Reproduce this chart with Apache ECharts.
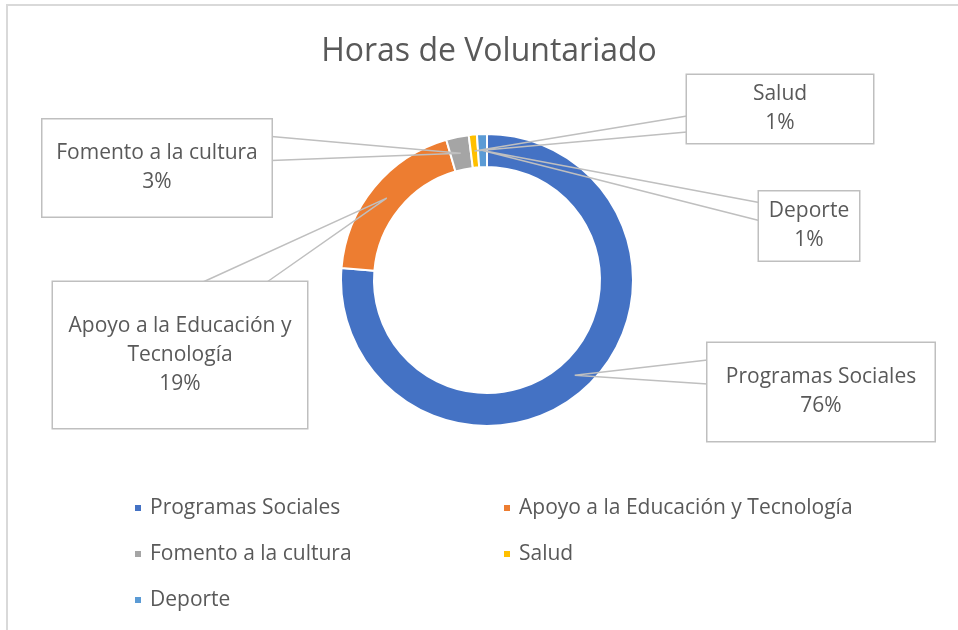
<!DOCTYPE html>
<html>
<head>
<meta charset="utf-8">
<script src="https://cdn.jsdelivr.net/npm/echarts@6/dist/echarts.min.js"></script>
<style>
  html, body { margin: 0; padding: 0; background: #fff; }
  #chart { position: absolute; left: 0; top: 0; width: 958px; height: 630px; }
  #frame {
    position: absolute; left: 6px; top: 4px; right: 0; bottom: 0;
    border-top: 2px solid #d9d9d9; border-left: 2px solid #d9d9d9;
    pointer-events: none;
  }
</style>
</head>
<body>
<div id="chart"></div>
<div id="frame"></div>
<script>
// areas and their share of volunteer hours (%)
const categories = [
  "Programas Sociales",
  "Apoyo a la Educación y Tecnología",
  "Fomento a la cultura",
  "Salud",
  "Deporte",
];
const hours = [76.3, 19.2, 2.5, 0.9, 1.1];
const labelNames = [
  "Programas Sociales",
  "Apoyo a la Educación y\nTecnología",
  "Fomento a la cultura",
  "Salud",
  "Deporte",
];
const colors = ["#4472C4", "#ED7D31", "#A5A5A5", "#FFC000", "#5B9BD5"];

// callout boxes: center x, center y, width, height,
// and where the pointer leaves the box: side, offsets along that side
const boxes = [
  [821, 392, 227, 98, "left", 17, 41],
  [180, 355, 254, 146, "top", 150, 214],
  [157, 168, 229, 97, "right", 17, 41],
  [780, 109, 186, 68, "left", 41, 57],
  [809, 226, 100, 69, "left", 11, 29],
];
const lineH = 29;

const cx = 487, cy = 280, rIn = 113, rOut = 146;
const textColor = "#595959";
const font = "'Open Sans', sans-serif";

const chart = echarts.init(document.getElementById("chart"));

const total = hours.reduce((a, b) => a + b, 0);

// point in the middle of the ring, at the slice's middle angle
function sliceAnchor(i) {
  let before = 0;
  for (let k = 0; k < i; k++) before += hours[k];
  const frac = (before + hours[i] / 2) / total;
  const a = frac * Math.PI * 2;
  const r = (rIn + rOut) / 2;
  return [cx + Math.sin(a) * r, cy - Math.cos(a) * r];
}

function boxPoint(b, off) {
  const x0 = b[0] - b[2] / 2, y0 = b[1] - b[3] / 2;
  if (b[4] === "left") return [x0, y0 + off];
  if (b[4] === "right") return [x0 + b[2], y0 + off];
  if (b[4] === "top") return [x0 + off, y0];
  return [x0 + off, y0 + b[3]];
}

const ringData = categories.map((name, i) => ({
  name: name,
  value: hours[i],
  itemStyle: { color: colors[i] },
}));

// same slices, transparent, drawn on top so the callout lines cross the ring
const labelData = categories.map((name, i) => {
  const lines = labelNames[i].split("\n").length + 1;
  const padV = Math.max(0, (boxes[i][3] - lines * lineH) / 2);
  return {
    name: name,
    value: hours[i],
    label: {
      width: boxes[i][2],
      padding: [padV, 0, padV, 0],
    },
  };
});

const legendText = {
  color: textColor,
  fontFamily: font,
  fontSize: 21,
  lineHeight: 22,
  padding: [0, 0, 0, 3],
};

const option = {
  animation: false,
  title: {
    text: "Horas de Voluntariado",
    left: 489,
    top: 36,
    padding: 0,
    textAlign: "center",
    textStyle: {
      color: textColor,
      fontFamily: font,
      fontSize: 32,
      fontWeight: "normal",
    },
  },
  legend: [
    {
      orient: "vertical",
      left: 128,
      top: 492,
      itemWidth: 8,
      itemHeight: 8,
      itemGap: 24,
      icon: "rect",
      data: [categories[0], categories[2], categories[4]],
      textStyle: legendText,
    },
    {
      orient: "vertical",
      left: 497,
      top: 492,
      itemWidth: 8,
      itemHeight: 8,
      itemGap: 24,
      icon: "rect",
      data: [categories[1], categories[3]],
      textStyle: legendText,
    },
  ],
  series: [
    {
      type: "pie",
      z: 2,
      center: [cx, cy],
      radius: [rIn, rOut],
      startAngle: 90,
      clockwise: true,
      itemStyle: {
        borderColor: "#fff",
        borderWidth: 2,
      },
      label: { show: false },
      labelLine: { show: false },
      emphasis: { disabled: true },
      data: ringData,
    },
    {
      type: "pie",
      z: 3,
      silent: true,
      center: [cx, cy],
      radius: [rIn, rOut],
      startAngle: 90,
      clockwise: true,
      avoidLabelOverlap: false,
      itemStyle: {
        color: "rgba(0,0,0,0)",
        borderWidth: 0,
      },
      label: {
        show: true,
        position: "outside",
        formatter: (p) => labelNames[p.dataIndex] + "\n" + Math.round(p.percent) + "%",
        color: textColor,
        fontFamily: font,
        fontSize: 21,
        lineHeight: lineH,
        align: "center",
        backgroundColor: "#fff",
        borderColor: "#bfbfbf",
        borderWidth: 1.5,
      },
      labelLine: {
        show: true,
        length: 10,
        length2: 10,
        lineStyle: { color: "#bfbfbf", width: 1.5 },
      },
      labelLayout: (params) => {
        const i = params.dataIndex;
        const b = boxes[i];
        return {
          x: b[0],
          y: b[1],
          align: "center",
          verticalAlign: "middle",
          labelLinePoints: [boxPoint(b, b[5]), sliceAnchor(i), boxPoint(b, b[6])],
        };
      },
      emphasis: { disabled: true },
      data: labelData,
    },
  ],
};

chart.setOption(option);
</script>
</body>
</html>
